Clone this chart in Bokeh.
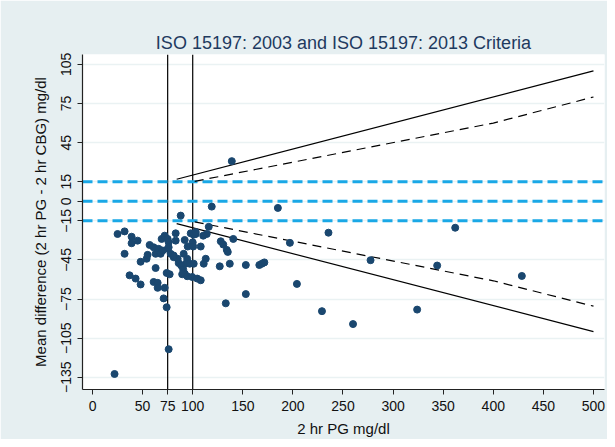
from bokeh.plotting import figure
from bokeh.models import Span, FixedTicker, Range1d
from bokeh.embed import file_html
from bokeh.resources import INLINE

title_text = "ISO 15197: 2003 and ISO 15197: 2013 Criteria"
x_label = "2 hr PG mg/dl"
y_label = "Mean difference (2 hr PG - 2 hr CBG) mg/dl"

x_ticks = [0, 50, 75, 100, 150, 200, 250, 300, 350, 400, 450, 500]
y_ticks = [105, 75, 45, 15, 0, -15, -45, -75, -105, -135]

pg = [25, 32, 39, 39, 45, 32, 48, 54, 55, 57, 61, 63, 66, 63, 37, 43, 48, 61, 65, 65, 22,
      68, 69, 72, 75, 76, 75, 78, 81, 85, 83, 83, 74, 77, 72, 71, 74, 76, 86, 70, 76, 81, 88,
      92, 98, 103, 100, 95, 100.5, 108, 114, 110.5, 116, 128, 130.5, 134, 140.5, 91, 94.5, 93, 97,
      101, 88.5, 90.5, 92, 89.5, 94.5, 99.5, 104.5, 108, 113, 111, 127, 137, 133,
      153, 153, 166.5, 169, 171.5, 197, 204, 235.5, 362, 277.5, 344, 428.5, 229, 260, 324, 139,
      119, 185, 135, 101, 103]
diff = [-25.1, -23.1, -27.2, -32.2, -30.2, -40.3, -46.4, -44.1, -41.1, -33.5, -35.3, -40.3, -36.5,
        -51.2, -56.8, -59.3, -63.8, -61.9, -62.6, -66.4, -132.5,
        -40.3, -28.9, -26.4, -28.9, -31.5, -36.5, -40.3, -42.9, -44.1, -24.6, -30.2, -55.0, -56.0,
        -66.4, -74.5, -81.3, -113.5, -47.4, -37.8, -35.3, -41.6, -11.0,
        -29.7, -24.6, -25.1, -31.5, -34.7, -34.7, -34.7, -25.1, -26.4, -19.6, -30.7, -33.2, -37.3,
        -28.9, -40.3, -44.1, -47.9, -47.9, -47.9, -49.2, -52.4, -55.5, -56.0, -57.5, -58.1, -59.3,
        -60.6, -44.1, -47.9, -49.9, -47.9, -78.3,
        -48.9, -71.2, -48.9, -47.9, -46.9, -31.9, -63.4, -24.1, -20.3, -45.2, -49.3, -57.3, -84.3,
        -94.2, -83.1, 30.8, -4.1, -5.1, -38.9, -25.6, -23.6]

blue_levels = [15, 0, -15]
vlines = [75, 100]

iso2003_x = [84, 500]
iso2003_up = [16.9, 100]
iso2003_lo = [-17.1, -100]

iso2013_x = [102, 400, 500]
iso2013_up = [15.3, 60, 80]
iso2013_lo = [-15.8, -61, -80.5]

FONT = "Liberation Sans"
W, H = 607, 439
FL, FR, FT, FB = 82, 604, 54, 390

p = figure(width=W, height=H, x_range=Range1d(-10, 511), y_range=Range1d(-144.4, 112.6),
           output_backend="svg", toolbar_location=None,
           min_border_left=FL, min_border_right=W - FR, min_border_top=FT, min_border_bottom=H - FB)
p.background_fill_color = "white"
p.border_fill_color = "#e6eff1"
p.outline_line_color = None

p.title.text = title_text
p.title.text_font = FONT
p.title.text_font_size = "18px"
p.title.text_font_style = "normal"
p.title.text_color = "#1e3a5f"
p.title.align = "center"
p.title.standoff = 3

p.xgrid.visible = False
p.ygrid.ticker = FixedTicker(ticks=y_ticks)
p.ygrid.grid_line_color = "#eaf2f3"
p.ygrid.grid_line_width = 1.5

p.xaxis.ticker = FixedTicker(ticks=x_ticks)
p.yaxis.ticker = FixedTicker(ticks=y_ticks)
for ax in (p.xaxis[0], p.yaxis[0]):
    ax.axis_line_color = "#222222"
    ax.axis_line_width = 1.2
    ax.major_tick_line_color = "#222222"
    ax.major_tick_out = 5
    ax.major_tick_in = 0
    ax.minor_tick_out = 0
    ax.minor_tick_in = 0
    ax.major_label_text_font = FONT
    ax.major_label_text_font_size = "14px"
    ax.major_label_text_color = "#111111"
    ax.axis_label_text_font = FONT
    ax.axis_label_text_font_size = "15px"
    ax.axis_label_text_font_style = "normal"
    ax.axis_label_text_color = "#111111"

p.xaxis.axis_label = x_label
p.yaxis.axis_label = y_label
p.yaxis.major_label_orientation = "vertical"
p.yaxis.major_label_standoff = 6
p.yaxis.axis_label_standoff = 10
p.xaxis.major_label_standoff = 6
p.xaxis.axis_label_standoff = 6

for v in vlines:
    p.add_layout(Span(location=v, dimension="height", line_color="black", line_width=1.2, level="underlay"))

for lv in blue_levels:
    p.add_layout(Span(location=lv, dimension="width", line_color="#1aa8e6", line_width=3,
                      line_dash="10 5", level="underlay"))

p.line(iso2003_x, iso2003_up, line_color="black", line_width=1.2)
p.line(iso2003_x, iso2003_lo, line_color="black", line_width=1.2)
p.line(iso2013_x, iso2013_up, line_color="black", line_width=1.2, line_dash="9 6")
p.line(iso2013_x, iso2013_lo, line_color="black", line_width=1.2, line_dash="9 6")

p.scatter(pg, diff, size=7, fill_color="#1a476f", line_color="#1a476f")

open("out.html", "w").write(file_html(p, INLINE))
